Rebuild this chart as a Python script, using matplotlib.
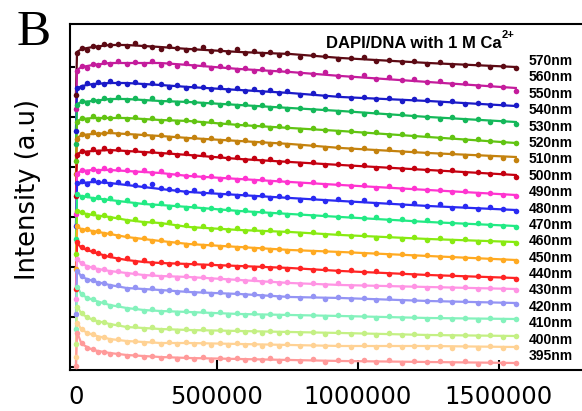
import matplotlib
matplotlib.use('Agg')
import matplotlib.pyplot as plt
import numpy as np

# sampling times of the measured points and of the fitted curves
t_pts = [0, 4000, 20000, 40000, 60000, 80000, 100000, 120000, 150000, 180000,
         210000, 240000, 270000, 300000, 330000, 360000, 390000, 420000, 450000, 480000,
         510000, 540000, 570000, 600000, 630000, 660000, 690000, 720000, 750000, 795000,
         840000, 885000, 930000, 975000, 1020000, 1065000, 1110000, 1155000, 1200000, 1245000,
         1290000, 1335000, 1380000, 1425000, 1470000, 1515000, 1560000]
t_fit = [0, 4000, 20000, 60000, 120000, 180000, 240000, 300000, 400000, 580000,
         760000, 940000, 1250000, 1560000]

wavelengths = ['570nm', '560nm', '550nm', '540nm', '530nm', '520nm', '510nm', '500nm',
               '490nm', '480nm', '470nm', '460nm', '450nm', '440nm', '430nm', '420nm',
               '410nm', '400nm', '395nm']

# measured intensities (a.u.), one list per emission channel, top curve first
i570 = [272, 314, 319, 317, 321, 320, 323, 322, 323, 321, 324, 321, 320, 318, 321, 319, 317, 318, 320, 316,
        317, 315, 318, 314, 316, 313, 315, 312, 314, 310, 312, 311, 308, 309, 310, 306, 307, 305, 306, 303,
        305, 302, 302, 303, 300, 301, 299]
i560 = [258, 296, 301, 299, 303, 302, 305, 303, 306, 303, 305, 303, 306, 302, 304, 301, 304, 301, 303, 299,
        301, 300, 297, 299, 296, 298, 295, 297, 296, 294, 293, 295, 291, 290, 292, 288, 290, 287, 288, 285,
        286, 283, 284, 281, 282, 280, 276]
i550 = [236, 279, 280, 284, 282, 285, 283, 286, 284, 283, 285, 282, 284, 283, 280, 282, 279, 281, 280, 278,
        280, 277, 279, 276, 278, 275, 277, 274, 276, 272, 274, 271, 272, 269, 270, 268, 269, 266, 268, 267,
        264, 266, 263, 264, 262, 263, 262]
i540 = [223, 262, 266, 264, 267, 266, 269, 267, 270, 267, 269, 266, 269, 265, 267, 264, 266, 265, 263, 265,
        262, 264, 261, 263, 260, 262, 259, 261, 258, 259, 257, 258, 255, 256, 253, 255, 252, 253, 251, 250,
        248, 250, 247, 248, 245, 246, 243]
i530 = [206, 245, 249, 247, 251, 248, 250, 249, 251, 248, 250, 247, 249, 246, 248, 245, 247, 246, 244, 246,
        243, 245, 242, 243, 241, 242, 239, 241, 240, 237, 239, 237, 235, 236, 234, 235, 232, 233, 231, 232,
        229, 230, 227, 228, 226, 225, 224]
i520 = [193, 228, 233, 231, 235, 233, 234, 236, 233, 234, 231, 233, 230, 232, 229, 231, 228, 230, 227, 229,
        226, 228, 225, 227, 224, 225, 223, 224, 222, 221, 222, 219, 220, 218, 219, 216, 218, 215, 216, 214,
        213, 214, 211, 212, 210, 209, 207]
i510 = [171, 212, 216, 214, 218, 215, 219, 216, 218, 215, 217, 214, 216, 213, 215, 212, 214, 211, 213, 210,
        211, 209, 210, 207, 209, 206, 208, 205, 206, 203, 205, 202, 203, 201, 202, 199, 200, 198, 199, 197,
        196, 197, 194, 195, 193, 194, 190]
i500 = [153, 193, 197, 195, 198, 196, 199, 197, 198, 197, 195, 197, 194, 196, 192, 193, 191, 192, 190, 191,
        188, 190, 187, 189, 186, 188, 185, 187, 185, 183, 185, 182, 183, 181, 182, 179, 181, 178, 179, 177,
        177, 175, 176, 173, 174, 172, 171]
i490 = [141, 184, 186, 183, 187, 185, 186, 183, 185, 184, 182, 181, 183, 179, 178, 177, 175, 177, 174, 176,
        172, 174, 171, 173, 170, 172, 169, 171, 170, 167, 169, 166, 168, 165, 167, 163, 165, 162, 164, 161,
        163, 159, 161, 158, 160, 158, 156]
i480 = [128, 173, 170, 172, 168, 170, 167, 169, 165, 167, 163, 165, 162, 164, 160, 162, 159, 161, 158, 159,
        157, 158, 155, 157, 154, 156, 153, 155, 152, 153, 151, 152, 150, 151, 149, 150, 147, 148, 146, 147,
        145, 144, 143, 144, 142, 141, 140]
i470 = [113, 156, 155, 152, 154, 150, 152, 149, 150, 146, 148, 144, 146, 143, 145, 141, 142, 139, 141, 138,
        139, 137, 139, 136, 138, 135, 137, 134, 136, 133, 135, 132, 134, 131, 132, 129, 131, 128, 130, 127,
        129, 126, 128, 125, 126, 124, 124]
i460 = [98, 141, 137, 138, 135, 136, 133, 134, 131, 131, 128, 129, 126, 127, 124, 125, 122, 124, 121, 123,
        120, 122, 119, 120, 118, 119, 117, 118, 116, 117, 115, 116, 114, 115, 113, 114, 112, 113, 111, 112,
        110, 110, 109, 109, 108, 107, 106]
i450 = [78, 125, 120, 118, 116, 114, 111, 112, 108, 109, 105, 107, 104, 105, 103, 104, 102, 104, 101, 103,
        101, 102, 100, 101, 99, 101, 99, 100, 98, 99, 97, 98, 96, 97, 95, 96, 93, 94, 92, 93,
        91, 92, 90, 91, 89, 90, 88]
i440 = [68, 108, 104, 100, 100, 97, 98, 95, 96, 93, 94, 91, 93, 90, 92, 89, 91, 89, 90, 88,
        89, 87, 88, 86, 88, 85, 86, 84, 85, 83, 84, 82, 84, 81, 82, 81, 82, 80, 81, 79,
        80, 79, 80, 78, 79, 78, 77]
i430 = [53, 96, 91, 87, 87, 84, 84, 81, 82, 78, 80, 77, 79, 76, 77, 75, 77, 74, 76, 73,
        75, 72, 74, 72, 73, 71, 72, 70, 71, 69, 71, 68, 70, 68, 69, 67, 69, 66, 67, 66,
        67, 65, 66, 64, 65, 64, 63]
i420 = [38, 80, 73, 69, 68, 64, 65, 61, 62, 58, 59, 56, 58, 55, 57, 54, 56, 54, 56, 53,
        55, 52, 54, 52, 54, 51, 53, 51, 53, 51, 52, 50, 52, 50, 51, 49, 51, 49, 50, 48,
        50, 48, 49, 47, 49, 47, 48]
i410 = [23, 60, 54, 50, 48, 45, 45, 42, 43, 40, 41, 38, 40, 37, 39, 36, 38, 36, 38, 35,
        37, 35, 37, 35, 36, 34, 36, 34, 35, 34, 35, 33, 35, 33, 34, 32, 34, 32, 33, 31,
        33, 31, 32, 31, 32, 30, 31]
i400 = [10, 44, 38, 34, 33, 29, 30, 27, 28, 25, 26, 24, 26, 23, 25, 23, 25, 23, 24, 22,
        24, 22, 24, 22, 23, 21, 23, 21, 23, 21, 22, 21, 22, 20, 22, 20, 22, 20, 21, 20,
        21, 19, 21, 19, 21, 19, 20]
i395 = [1, 34, 24, 19, 18, 15, 15, 13, 13, 11, 12, 10, 11, 9, 11, 8, 10, 8, 10, 7,
        9, 8, 9, 7, 8, 7, 9, 6, 8, 6, 8, 5, 7, 6, 7, 5, 7, 4, 6, 5,
        6, 4, 6, 3, 5, 4, 4]

# fitted kinetics at t_fit
f570 = [272, 315, 318, 320, 322, 322, 321, 320, 318, 315, 313, 309, 304, 300]
f560 = [257, 297, 300, 302, 304, 304, 304, 304, 302, 298, 295, 291, 285, 279]
f550 = [237, 278, 281, 283, 284, 284, 283, 282, 280, 277, 274, 270, 266, 261]
f540 = [222, 263, 265, 266, 268, 268, 267, 266, 265, 262, 259, 256, 250, 245]
f530 = [207, 246, 248, 249, 249, 249, 248, 247, 246, 242, 239, 236, 230, 224]
f520 = [192, 229, 232, 233, 234, 233, 232, 231, 229, 226, 223, 219, 214, 210]
f510 = [172, 213, 215, 216, 217, 216, 215, 214, 212, 208, 205, 202, 197, 192]
f500 = [152, 194, 196, 197, 197, 196, 195, 194, 191, 188, 185, 182, 177, 172]
f490 = [142, 183, 184, 185, 184, 182, 180, 178, 175, 172, 169, 166, 161, 157]
f480 = [127, 172, 171, 169, 167, 165, 163, 162, 160, 156, 153, 150, 145, 141]
f470 = [112, 157, 154, 152, 150, 147, 145, 144, 140, 137, 135, 132, 128, 125]
f460 = [97, 140, 138, 136, 133, 130, 128, 126, 123, 120, 117, 115, 111, 107]
f450 = [77, 124, 119, 115, 110, 107, 105, 104, 103, 101, 99, 96, 92, 89]
f440 = [67, 109, 103, 99, 96, 94, 92, 91, 90, 87, 84, 82, 80, 78]
f430 = [52, 97, 90, 86, 82, 79, 78, 77, 75, 73, 70, 69, 66, 64]
f420 = [37, 81, 72, 67, 62, 59, 57, 56, 55, 53, 52, 51, 49, 48]
f410 = [22, 61, 53, 47, 43, 40, 39, 38, 37, 36, 35, 34, 32, 31]
f400 = [9, 45, 37, 32, 28, 26, 25, 24, 24, 23, 22, 21, 21, 20]
f395 = [0, 35, 23, 17, 14, 12, 11, 10, 9, 8, 7, 6, 5, 4]

measured = [i570, i560, i550, i540, i530, i520, i510, i500, i490, i480,
            i470, i460, i450, i440, i430, i420, i410, i400, i395]
fitted = [f570, f560, f550, f540, f530, f520, f510, f500, f490, f480,
          f470, f460, f450, f440, f430, f420, f410, f400, f395]

colors = ['#5c0a14', '#c41c9c', '#1a1ac8', '#14b85a', '#62c412', '#c4820e', '#c40010', '#ff34d0',
          '#2a2af2', '#22ea84', '#88ea12', '#ffaa22', '#ff2424', '#ff94e4', '#9494f4', '#84f2bc',
          '#c4f084', '#ffd294', '#ff9a9a']

fig = plt.figure(figsize=(5.82, 4.11), dpi=100)
ax = fig.add_axes([70 / 582, 41 / 411, 540 / 582, 346 / 411])

for ys, fs, c in zip(measured, fitted, colors):
    ax.plot(t_fit, fs, '-', color=c, lw=1.6, zorder=2)
    ax.plot(t_pts, ys, 'o', color=c, ms=4, mew=0, zorder=3)

ax.set_xlim(-21000, 1894000)
ax.set_ylim(-3, 343)

ax.set_xticks([0, 500000, 1000000, 1500000])
ax.set_xticklabels(['0', '500000', '1000000', '1500000'])
ax.set_yticks([0, 50, 100, 150, 200, 250, 300])
ax.set_yticklabels([])
ax.tick_params(axis='x', direction='in', length=7, width=1.5, pad=11,
               labelsize=17.5, top=False)
ax.tick_params(axis='y', direction='in', length=3.5, width=1.5, right=False)
for lbl in ax.get_xticklabels():
    lbl.set_family('DejaVu Sans')
for sp in ax.spines.values():
    sp.set_linewidth(1.5)

# channel labels down the right-hand side
label_y = np.linspace(306, 11, len(wavelengths))
for name, y in zip(wavelengths, label_y):
    ax.text(1606000, y, name, ha='left', va='center', fontsize=10,
            fontweight='bold', family='Liberation Sans', clip_on=False)

ttl = ax.text(886000, 319, 'DAPI/DNA with 1 M Ca', ha='left', va='baseline',
              fontsize=12, fontweight='bold', family='Liberation Sans')
ax.annotate('2+', xy=(1.0, 0.72), xycoords=ttl, xytext=(0.5, 0),
            textcoords='offset points', ha='left', va='bottom',
            fontsize=8, fontweight='bold', family='Liberation Sans')

fig.text(28 / 582, 1 - 189 / 411, 'Intensity (a.u)', rotation=90,
         ha='center', va='center', fontsize=18.5, family='DejaVu Sans')
fig.text(17 / 582, 1 - 45 / 411, 'B', ha='left', va='baseline',
         fontsize=37, family='Liberation Serif')

fig.savefig('out.png', dpi=100)
